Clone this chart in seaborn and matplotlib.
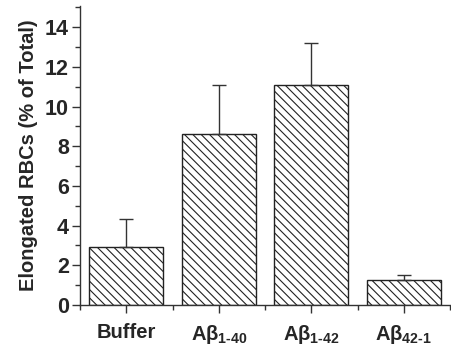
import matplotlib
matplotlib.use("Agg")
import matplotlib.pyplot as plt
from matplotlib.ticker import MultipleLocator, FixedLocator
import seaborn as sns
import pandas as pd
import numpy as np

groups = ["Buffer", "Aβ1-40", "Aβ1-42", "Aβ42-1"]
tick_labels = ["Buffer", r"A$\beta_{1\text{-}40}$", r"A$\beta_{1\text{-}42}$", r"A$\beta_{42\text{-}1}$"]
means = [2.9, 8.6, 11.1, 1.25]
errors = [1.42, 2.48, 2.12, 0.26]

sns.set_theme(style="ticks")
plt.rcParams["font.family"] = ["Liberation Sans", "DejaVu Sans"]
plt.rcParams["font.weight"] = "bold"
plt.rcParams["mathtext.fontset"] = "custom"
plt.rcParams["mathtext.rm"] = "Liberation Sans:bold"
plt.rcParams["mathtext.it"] = "Liberation Sans:bold"
plt.rcParams["mathtext.bf"] = "Liberation Sans:bold"
plt.rcParams["mathtext.sf"] = "Liberation Sans:bold"
plt.rcParams["hatch.linewidth"] = 0.8
plt.rcParams["hatch.color"] = "#333333"

df = pd.DataFrame({"group": groups, "value": means})

fig = plt.figure(figsize=(4.51, 3.53), dpi=100)
ax = fig.add_axes([80 / 451, 48 / 353, 370 / 451, 299 / 353])

sns.barplot(data=df, x="group", y="value", ax=ax, color="white",
            edgecolor="#222222", linewidth=1.0, width=0.8, errorbar=None)
for p in ax.patches:
    p.set_hatch("\\\\\\\\")

ax.errorbar(np.arange(len(means)), means, yerr=[np.zeros(len(errors)), errors],
            fmt="none", ecolor="#333333", elinewidth=1.0, capsize=5, capthick=1.0,
            zorder=1)

ax.set_xlim(-0.5, 3.5)
ax.set_ylim(0, 15.07)
ax.yaxis.set_major_locator(MultipleLocator(2))
ax.yaxis.set_minor_locator(MultipleLocator(1))
ax.xaxis.set_minor_locator(FixedLocator([-0.5, 0.5, 1.5, 2.5, 3.5]))
ax.set_xticks(range(len(groups)))
ax.set_xticklabels(tick_labels, fontsize=14.5, fontweight="bold")
for lab in ax.get_yticklabels():
    lab.set_fontweight("bold")
ax.tick_params(axis="y", labelsize=15.5, length=6, width=1, color="#333333", pad=2)
ax.tick_params(axis="y", which="minor", length=3.5, width=1, color="#333333")
ax.tick_params(axis="x", length=6, width=1, color="#333333", pad=7)
ax.tick_params(axis="x", which="minor", length=3.5, width=1, color="#333333")

ax.set_xlabel("")
ax.set_ylabel("Elongated RBCs (% of Total)", fontsize=14.5, fontweight="bold", labelpad=5)

sns.despine(ax=ax, top=True, right=True)
for s in ["left", "bottom"]:
    ax.spines[s].set_color("#333333")
    ax.spines[s].set_linewidth(1.0)

fig.savefig("out.png", dpi=100)
